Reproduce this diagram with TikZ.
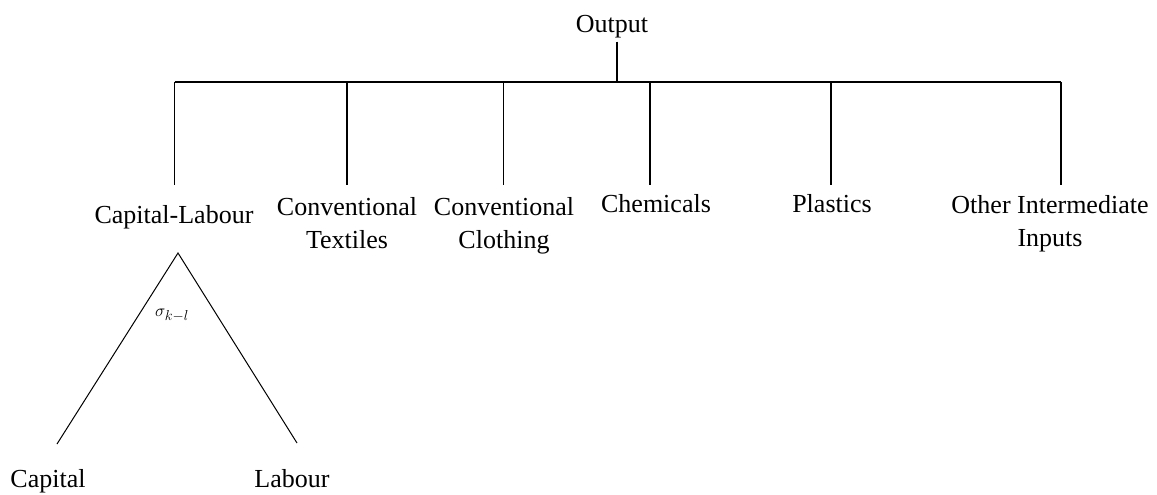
\documentclass[tikz,border=0pt]{standalone}
\usepackage{fontspec}
\setmainfont{Liberation Serif}
\begin{document}
\begin{tikzpicture}[x=1pt,y=-1pt,
  lbl/.style={font=\fontsize{26}{33}\selectfont, inner sep=0pt, align=center, anchor=base},
  branch/.style={line width=1.2pt, black}]
\useasboundingbox (0,0) rectangle (1157,495);

% top of the tree
\node[lbl, inner sep=3pt] (out) at (612,33) {Output};
\coordinate (hub) at (617,82);
\draw[branch] (out.south -| hub) -- (hub);

% branch points on the bar and the ends of the drops
\foreach \n/\x in {cl/174.5, ct/347, cc/503.5, ch/650, pl/831, oi/1061} {
  \coordinate (\n top) at (\x,82);
  \coordinate (\n bot) at (\x,185);
}
\draw[branch] (cltop) -- (oitop);
\foreach \n in {cl,ct,cc,ch,pl,oi} {
  \draw[branch] (\n top) -- (\n bot);
}

% inputs (two-line labels sit on the baseline of their last line)
\node[lbl] (cl) at (174,223) {Capital-Labour};
\node[lbl] (ct) at (347,248) {Conventional\\Textiles};
\node[lbl] (cc) at (504,248) {Conventional\\Clothing};
\node[lbl] (ch) at (656,212) {Chemicals};
\node[lbl] (pl) at (832,212) {Plastics};
\node[lbl] (oi) at (1050,246) {Other Intermediate\\Inputs};

% capital-labour nest
\coordinate (apex) at (178,253);
\coordinate (kend) at (57,444);
\coordinate (lend) at (297,443);
\draw[branch, line width=1pt] (kend) -- (apex) -- (lend);
\node[font=\fontsize{19}{22}\selectfont, inner sep=0pt] (sig) at (172,315) {$\sigma_{k-l}$};

\node[lbl] (cap) at (48,487) {Capital};
\node[lbl] (lab) at (292,487) {Labour};
\end{tikzpicture}
\end{document}
